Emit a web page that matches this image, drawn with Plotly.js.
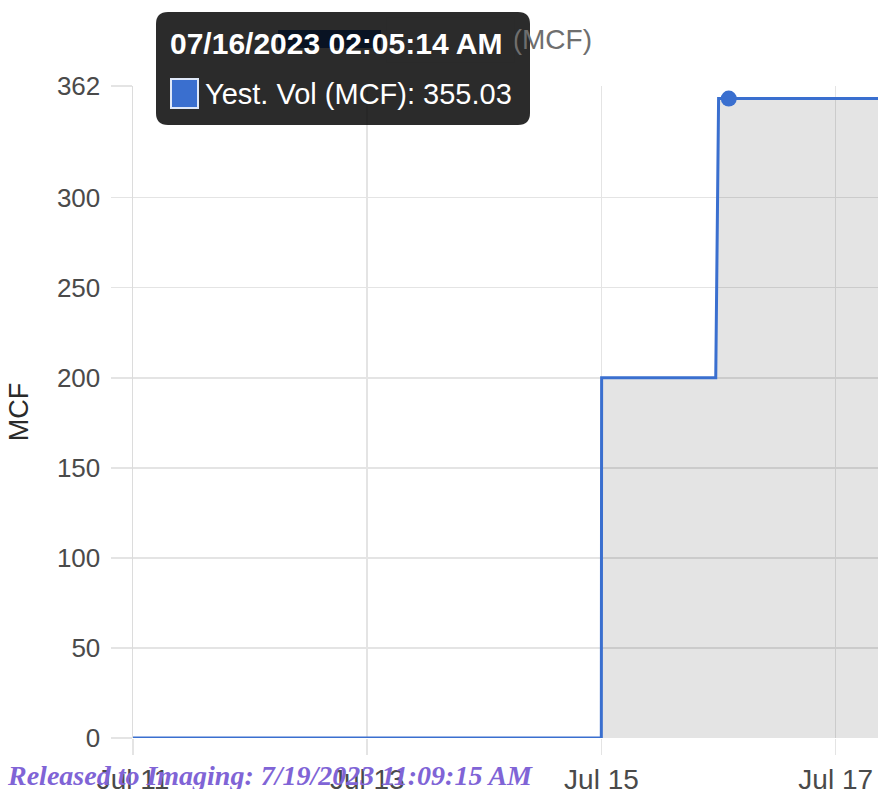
<!DOCTYPE html>
<html>
<head>
<meta charset="utf-8">
<script src="https://cdn.plot.ly/plotly-3.0.1.min.js"></script>
<style>
  html, body { margin: 0; padding: 0; background: #ffffff; }
  #chart { width: 881px; height: 789px; }
</style>
</head>
<body>
<div id="chart"></div>
<script>
// ---- data ----
const times = [
  '2023-07-11 00:00:00',
  '2023-07-14 23:58:00',
  '2023-07-15 00:02:00',
  '2023-07-15 23:25:00',
  '2023-07-16 00:00:00',
  '2023-07-16 02:05:14',
  '2023-07-17 09:00:00'
];
const values = [0, 0, 200, 200, 355, 355.03, 355.03];
const hoverIndex = 5;
const seriesName = 'Yest. Vol (MCF)';
const yTickVals = [0, 50, 100, 150, 200, 250, 300, 362];
const yTickText = ['0', '50', '100', '150', '200', '250', '300', '362'];
const xTickVals = ['2023-07-11', '2023-07-13', '2023-07-15', '2023-07-17'];
const xTickText = ['Jul 11', 'Jul 13', 'Jul 15', 'Jul 17'];
const xRange = ['2023-07-11 00:00:00', '2023-07-17 08:40:00'];
const yRange = [0, 362];
const yTitle = 'MCF';
const releasedText = 'Released to Imaging: 7/19/2023 11:09:15 AM';

// ---- geometry helpers ----
const W = 881, H = 789;
const M = { l: 133, r: 3, t: 86, b: 51 };
const PW = W - M.l - M.r, PH = H - M.t - M.b;
const px = x => (x - M.l) / PW;
const py = y => (H - M.b - y) / PH;

function fmtTooltipDate(s) {
  const [d, t] = s.split(' ');
  const [Y, Mo, D] = d.split('-');
  let [h, mi, se] = t.split(':').map(Number);
  const ap = h >= 12 ? 'PM' : 'AM';
  let h12 = h % 12; if (h12 === 0) h12 = 12;
  const p = n => String(n).padStart(2, '0');
  return `${Mo}/${D}/${Y} ${p(h12)}:${p(mi)}:${p(se)} ${ap}`;
}

const blue = '#3a6fcf';
const font = 'Liberation Sans, Arial, sans-serif';

const traces = [
  {
    x: times, y: values, type: 'scatter', mode: 'lines',
    name: seriesName,
    line: { color: blue, width: 3 },
    fill: 'tozeroy', fillcolor: 'rgba(0,0,0,0.105)',
    hoverinfo: 'skip'
  },
  {
    x: [times[hoverIndex]], y: [values[hoverIndex]], type: 'scatter', mode: 'markers',
    marker: { color: blue, size: 16, line: { width: 0 } },
    hoverinfo: 'skip', cliponaxis: false
  }
];

const tipL = 156, tipR = 530, tipT = 12, tipB = 125, rad = 12;
function roundRect(x0, y0, x1, y1, r) {
  const X = v => px(v), Y = v => py(v);
  return `M ${X(x0 + r)},${Y(y0)} L ${X(x1 - r)},${Y(y0)} Q ${X(x1)},${Y(y0)} ${X(x1)},${Y(y0 + r)} ` +
         `L ${X(x1)},${Y(y1 - r)} Q ${X(x1)},${Y(y1)} ${X(x1 - r)},${Y(y1)} ` +
         `L ${X(x0 + r)},${Y(y1)} Q ${X(x0)},${Y(y1)} ${X(x0)},${Y(y1 - r)} ` +
         `L ${X(x0)},${Y(y0 + r)} Q ${X(x0)},${Y(y0)} ${X(x0 + r)},${Y(y0)} Z`;
}

const shapes = [
  // legend colour box (behind tooltip)
  { type: 'rect', xref: 'paper', yref: 'paper', layer: 'above',
    x0: px(278), x1: px(381), y0: py(48), y1: py(30),
    fillcolor: blue, line: { width: 0 } },
  // tooltip background
  { type: 'path', xref: 'paper', yref: 'paper', layer: 'above',
    path: roundRect(tipL, tipT, tipR, tipB, rad),
    fillcolor: 'rgba(0,0,0,0.83)', line: { width: 0 } },
  // tooltip colour swatch
  { type: 'rect', xref: 'paper', yref: 'paper', layer: 'above',
    x0: px(171), x1: px(198), y0: py(108), y1: py(79),
    fillcolor: blue, line: { color: '#dfe8f8', width: 2 } }
];

const annotations = [
  // legend text (mostly hidden by the tooltip)
  { xref: 'paper', yref: 'paper', x: px(594), y: py(40), xanchor: 'right', yanchor: 'middle',
    text: seriesName, showarrow: false,
    font: { family: font, size: 28, color: '#6e6e6e' } },
  // tooltip body covering legend text
  { xref: 'paper', yref: 'paper', x: px(386), y: py(40), xanchor: 'left', yanchor: 'middle',
    text: ' ', showarrow: false, width: 513 - 386, height: 44,
    bgcolor: '#2b2b2b', borderpad: 0 },
  // tooltip title
  { xref: 'paper', yref: 'paper', x: px(168), y: py(44), xanchor: 'left', yanchor: 'middle',
    text: '<b>' + fmtTooltipDate(times[hoverIndex]) + '</b>', showarrow: false,
    font: { family: font, size: 30, color: '#ffffff' } },
  // tooltip body
  { xref: 'paper', yref: 'paper', x: px(203), y: py(94), xanchor: 'left', yanchor: 'middle',
    text: seriesName + ': ' + values[hoverIndex].toFixed(2), showarrow: false,
    font: { family: font, size: 29, color: '#ffffff' } },
  // released watermark
  { xref: 'paper', yref: 'paper', x: px(5), y: py(775), xanchor: 'left', yanchor: 'middle',
    text: '<b><i>' + releasedText + '</i></b>', showarrow: false,
    font: { family: 'Liberation Serif, Times New Roman, serif', size: 28, color: '#8064d6' } }
];

const layout = {
  width: W, height: H,
  margin: M,
  paper_bgcolor: '#ffffff', plot_bgcolor: '#ffffff',
  showlegend: false,
  font: { family: font, color: '#4a4a4a', size: 26 },
  xaxis: {
    type: 'date', range: xRange,
    tickvals: xTickVals, ticktext: xTickText,
    showgrid: true, gridcolor: '#e4e4e4', gridwidth: 1.5,
    ticks: 'outside', ticklen: 16, tickcolor: '#e4e4e4', tickwidth: 1.5,
    ticklabelstandoff: 0,
    tickfont: { family: font, size: 28, color: '#4a4a4a' },
    zeroline: false, showline: false, fixedrange: true
  },
  yaxis: {
    range: yRange,
    tickvals: yTickVals, ticktext: yTickText,
    showgrid: true, gridcolor: '#e4e4e4', gridwidth: 1.5,
    ticks: 'outside', ticklen: 21, tickcolor: '#e4e4e4', tickwidth: 1.5,
    ticklabelstandoff: 5,
    tickfont: { family: font, size: 26, color: '#4a4a4a' },
    showline: true, linecolor: '#dcdcdc', linewidth: 1.5,
    zeroline: false, fixedrange: true,
    title: { text: yTitle, standoff: 20, font: { family: font, size: 27, color: '#2a2a2a' } }
  },
  shapes: shapes,
  annotations: annotations
};

Plotly.newPlot('chart', traces, layout, { displayModeBar: false, staticPlot: true });
</script>
</body>
</html>
